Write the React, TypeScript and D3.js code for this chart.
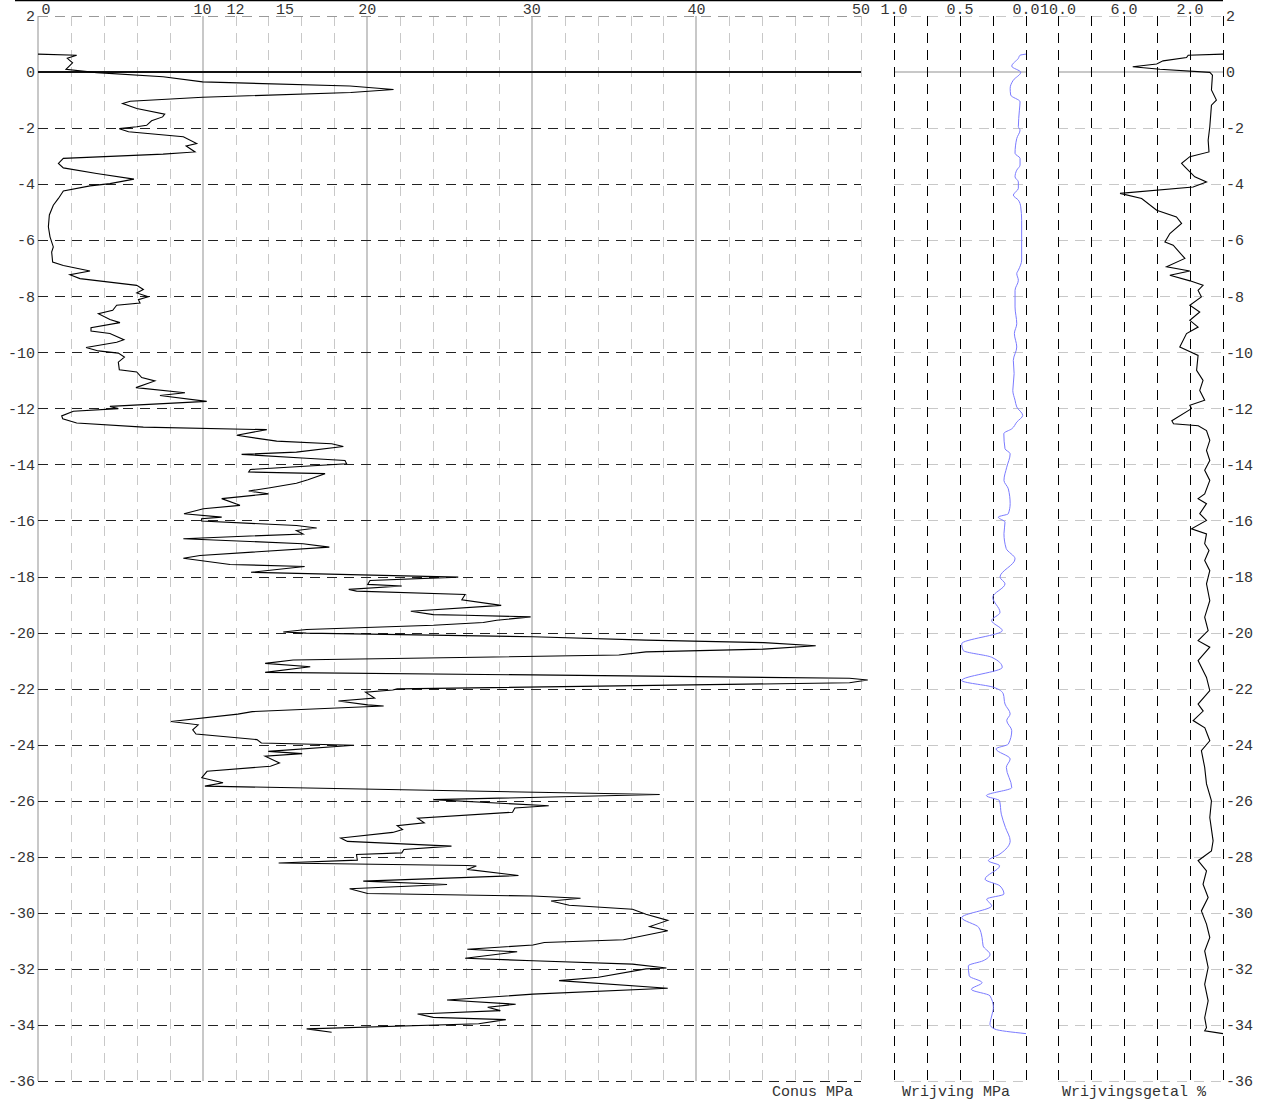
import * as d3 from 'd3';

// [depth m, value]
const conusData: [number, number][] = [
  [0.64, 0], [0.6, 2.35], [0.49, 1.78], [0.33, 2.1], [0.1, 1.7], [-0.02, 3.56], [-0.17, 7.6],
  [-0.35, 10.0], [-0.5, 18.95], [-0.62, 21.6], [-0.73, 19.0], [-0.9, 10.0], [-1.04, 5.6],
  [-1.12, 5.14], [-1.3, 6.0], [-1.5, 7.7], [-1.6, 7.57], [-1.74, 6.9], [-1.9, 6.6], [-1.95, 6.0],
  [-2.02, 4.94], [-2.13, 5.5], [-2.31, 8.83], [-2.55, 9.64], [-2.64, 9.0], [-2.85, 9.54],
  [-2.93, 7.6], [-3.08, 1.54], [-3.26, 1.24], [-3.42, 1.54], [-3.62, 3.56], [-3.82, 5.83],
  [-3.98, 4.37], [-4.06, 3.16], [-4.24, 1.54], [-4.51, 1.24], [-4.75, 0.93], [-5.1, 0.69],
  [-5.52, 0.63], [-5.88, 0.73], [-6.24, 0.93], [-6.42, 0.83], [-6.78, 0.89], [-6.9, 1.54],
  [-7.1, 3.16], [-7.23, 1.94], [-7.37, 2.55], [-7.61, 6.0], [-7.76, 6.4], [-7.88, 6.0],
  [-8.02, 6.7], [-8.12, 6.1], [-8.24, 6.2], [-8.32, 4.78], [-8.5, 4.54], [-8.62, 3.67],
  [-8.83, 4.37], [-8.94, 4.98], [-9.12, 3.22], [-9.24, 3.22], [-9.33, 4.37], [-9.55, 5.22],
  [-9.64, 4.78], [-9.83, 2.92], [-9.95, 3.67], [-10.03, 4.88], [-10.17, 5.25], [-10.35, 4.88],
  [-10.62, 4.94], [-10.7, 6.0], [-10.9, 6.3], [-11.02, 7.1], [-11.26, 5.95], [-11.44, 8.93],
  [-11.54, 7.41], [-11.75, 10.25], [-11.93, 4.37], [-12.01, 4.88], [-12.1, 2.15], [-12.27, 1.44],
  [-12.37, 1.5], [-12.52, 2.35], [-12.67, 6.4], [-12.76, 13.9], [-12.96, 12.07], [-13.17, 14.5],
  [-13.26, 17.84], [-13.36, 18.55], [-13.56, 15.7], [-13.64, 12.37], [-13.78, 16.3],
  [-13.86, 18.65], [-13.98, 18.75], [-14.18, 12.9], [-14.27, 12.8], [-14.33, 17.44],
  [-14.55, 16.4], [-14.67, 15.7], [-14.83, 14.1], [-14.95, 12.8], [-15.05, 14.0], [-15.22, 11.16],
  [-15.46, 12.27], [-15.58, 10.05], [-15.76, 8.87], [-15.88, 11.16], [-15.94, 9.94],
  [-16.02, 9.94], [-16.18, 15.7], [-16.27, 16.93], [-16.36, 15.7], [-16.48, 16.1], [-16.65, 8.83],
  [-16.83, 16.1], [-16.95, 17.7], [-17.25, 9.84], [-17.35, 8.83], [-17.57, 11.67], [-17.64, 16.2],
  [-17.85, 12.94], [-18.02, 25.53], [-18.14, 20.17], [-18.28, 20.03], [-18.34, 22.1],
  [-18.46, 18.88], [-18.52, 19.35], [-18.64, 25.95], [-18.83, 25.75], [-19.03, 28.14],
  [-19.24, 22.65], [-19.36, 24.02], [-19.38, 25.95], [-19.44, 29.93], [-19.56, 27.87],
  [-19.64, 27.05], [-19.74, 24.02], [-19.89, 16.32], [-19.98, 14.9], [-20.02, 16.3],
  [-20.15, 30.07], [-20.27, 36.94], [-20.36, 44.09], [-20.47, 47.25], [-20.59, 44.09],
  [-20.69, 36.94], [-20.8, 35.29], [-20.98, 15.5], [-21.1, 13.8], [-21.22, 16.54], [-21.42, 13.8],
  [-21.51, 30.07], [-21.63, 49.3], [-21.69, 50.41], [-21.79, 49.3], [-22.01, 21.82],
  [-22.05, 21.55], [-22.13, 19.9], [-22.34, 20.45], [-22.44, 18.25], [-22.58, 20.03],
  [-22.62, 21.0], [-22.82, 13.02], [-22.91, 12.14], [-23.17, 8.08], [-23.29, 9.73], [-23.47, 9.4],
  [-23.62, 9.6], [-23.82, 13.3], [-23.94, 13.57], [-24.02, 19.2], [-24.24, 13.99], [-24.32, 16.05],
  [-24.41, 13.8], [-24.65, 14.67], [-24.77, 14.12], [-24.95, 10.27], [-25.18, 9.95],
  [-25.36, 11.24], [-25.48, 10.14], [-25.78, 37.77], [-25.96, 24.02], [-26.18, 31.03],
  [-26.26, 28.97], [-26.41, 28.83], [-26.62, 23.06], [-26.79, 23.47], [-26.89, 21.82],
  [-27.03, 22.15], [-27.13, 21.55], [-27.33, 18.39], [-27.45, 18.8], [-27.62, 25.12],
  [-27.74, 22.23], [-27.86, 22.1], [-27.92, 19.35], [-28.12, 19.4], [-28.22, 14.62],
  [-28.31, 26.08], [-28.33, 26.63], [-28.45, 26.08], [-28.67, 29.19], [-28.87, 19.76],
  [-28.99, 24.85], [-29.14, 18.93], [-29.31, 20.03], [-29.4, 30.07], [-29.48, 32.96],
  [-29.58, 31.17], [-29.73, 32.27], [-29.87, 36.12], [-30.05, 36.94], [-30.27, 38.26],
  [-30.49, 37.16], [-30.64, 38.26], [-30.96, 35.57], [-31.06, 30.76], [-31.15, 30.07],
  [-31.3, 26.08], [-31.39, 29.11], [-31.62, 25.95], [-31.71, 30.07], [-31.83, 36.12],
  [-31.97, 38.18], [-32.0, 36.94], [-32.3, 34.05], [-32.42, 31.66], [-32.69, 38.26],
  [-32.9, 30.07], [-33.11, 24.85], [-33.26, 29.02], [-33.37, 27.32], [-33.49, 28.09],
  [-33.61, 23.06], [-33.73, 24.02], [-33.81, 28.42], [-33.96, 26.77], [-34.14, 16.32],
  [-34.26, 17.84],
];

const wrijvingData: [number, number][] = [
  [0.64, 0.0], [0.6, 0.045], [0.49, 0.058], [0.21, 0.108], [-0.01, 0.04], [-0.29, 0.096],
  [-0.58, 0.12], [-0.82, 0.116], [-1.06, 0.045], [-1.36, 0.05], [-1.95, 0.058], [-2.07, 0.045],
  [-2.37, 0.07], [-2.9, 0.083], [-3.08, 0.045], [-3.32, 0.045], [-3.5, 0.07], [-3.74, 0.083],
  [-3.92, 0.058], [-4.15, 0.058], [-4.39, 0.096], [-4.57, 0.058], [-4.81, 0.04], [-5.29, 0.033],
  [-6.71, 0.033], [-7.07, 0.058], [-7.19, 0.07], [-7.43, 0.058], [-7.79, 0.083], [-8.38, 0.083],
  [-8.98, 0.07], [-9.33, 0.088], [-9.81, 0.07], [-10.29, 0.096], [-10.76, 0.09], [-11.36, 0.1],
  [-11.71, 0.083], [-11.95, 0.07], [-12.25, 0.025], [-12.49, 0.07], [-12.73, 0.108],
  [-12.9, 0.168], [-13.44, 0.159], [-13.62, 0.12], [-14.1, 0.146], [-14.57, 0.167],
  [-14.87, 0.134], [-15.4, 0.12], [-15.76, 0.134], [-15.88, 0.21], [-16.06, 0.159],
  [-16.47, 0.167], [-17.0, 0.15], [-17.37, 0.083], [-18.02, 0.197], [-18.26, 0.159],
  [-18.74, 0.252], [-19.28, 0.197], [-19.57, 0.26], [-19.93, 0.18], [-20.4, 0.487],
  [-20.64, 0.475], [-20.88, 0.26], [-21.24, 0.18], [-21.71, 0.487], [-21.95, 0.247],
  [-22.19, 0.172], [-22.55, 0.159], [-22.9, 0.12], [-23.14, 0.146], [-23.5, 0.108],
  [-23.98, 0.134], [-24.15, 0.227], [-24.51, 0.12], [-24.81, 0.149], [-25.53, 0.108],
  [-25.82, 0.3], [-26.0, 0.2], [-26.48, 0.187], [-26.95, 0.156], [-27.43, 0.12], [-27.9, 0.197],
  [-28.14, 0.285], [-28.32, 0.2], [-28.8, 0.31], [-29.04, 0.197], [-29.33, 0.167],
  [-29.51, 0.298], [-29.75, 0.26], [-30.17, 0.487], [-30.52, 0.358], [-30.88, 0.333],
  [-31.18, 0.325], [-31.48, 0.273], [-31.71, 0.325], [-31.89, 0.437], [-32.25, 0.43],
  [-32.49, 0.333], [-32.73, 0.414], [-32.96, 0.273], [-33.38, 0.247], [-33.68, 0.26],
  [-33.98, 0.273], [-34.15, 0.235], [-34.31, 0.0],
];

const wrijvingsgetalData: [number, number][] = [
  [0.64, 0], [0.6, 2.11], [0.52, 2.21], [0.4, 3.63], [0.29, 4.02], [0.19, 5.47], [0.1, 3.82],
  [-0.01, 0.8], [-0.11, 0.64], [-0.64, 0.7], [-1.0, 0.4], [-1.18, 0.7], [-1.95, 0.8],
  [-2.43, 0.9], [-2.85, 0.85], [-3.02, 2.01], [-3.26, 2.51], [-3.38, 2.31], [-3.74, 1.71],
  [-3.92, 1.0], [-4.1, 1.81], [-4.33, 6.24], [-4.51, 4.93], [-4.93, 4.02], [-5.17, 2.82],
  [-5.4, 2.51], [-5.76, 3.22], [-6.06, 3.52], [-6.18, 3.02], [-6.65, 2.31], [-6.95, 3.42],
  [-7.1, 2.01], [-7.25, 3.22], [-7.45, 2.0], [-7.61, 1.21], [-7.79, 1.51], [-8.02, 1.31],
  [-8.32, 2.01], [-8.56, 1.41], [-8.86, 2.01], [-9.1, 1.51], [-9.33, 2.21], [-9.81, 2.62],
  [-10.11, 1.51], [-10.64, 1.6], [-11.0, 1.21], [-11.36, 1.41], [-11.71, 1.11], [-11.89, 2.01],
  [-12.01, 1.91], [-12.44, 3.1], [-12.55, 3.0], [-12.62, 1.5], [-12.79, 1.0], [-13.14, 0.8],
  [-13.5, 1.0], [-13.86, 0.8], [-14.21, 1.11], [-14.57, 0.8], [-15.05, 1.11], [-15.22, 1.51],
  [-15.4, 1.0], [-15.76, 1.41], [-16.0, 1.0], [-16.3, 1.91], [-16.48, 1.0], [-16.83, 1.11],
  [-17.07, 0.85], [-17.43, 1.11], [-17.79, 0.8], [-18.26, 1.0], [-18.86, 0.8], [-19.45, 1.11],
  [-19.93, 0.9], [-20.29, 1.51], [-20.52, 0.8], [-21.0, 1.51], [-21.6, 1.0], [-22.07, 0.8],
  [-22.55, 1.51], [-22.8, 1.2], [-23.14, 1.81], [-23.4, 1.1], [-23.86, 0.8], [-24.21, 1.31],
  [-24.81, 1.11], [-25.4, 1.0], [-26.0, 0.7], [-26.6, 0.8], [-27.43, 0.6], [-27.79, 0.7],
  [-28.14, 1.51], [-28.5, 1.0], [-28.98, 1.21], [-29.45, 0.9], [-29.93, 1.31], [-30.4, 1.0],
  [-30.88, 0.8], [-31.36, 1.11], [-31.95, 0.9], [-32.55, 1.11], [-33.14, 0.9], [-33.74, 1.11],
  [-34.1, 1.0], [-34.21, 1.11], [-34.31, 0],
];

const depthTicks = d3.range(2, -37, -2);
const conusLabels = [0, 10, 12, 15, 20, 30, 40, 50];
const conusGrid = d3.range(0, 51, 2);
const conusMajor = [0, 10, 20, 30, 40];
const wrijvingLabels = ['1.0', '0.5', '0.0'];
const wrijvingGrid = [1, 0.75, 0.5, 0.25, 0];
const getalLabels = ['10.0', '6.0', '2.0'];
const getalGrid = [10, 8, 6, 4, 2, 0];

const FONT = '"Liberation Mono", "Courier New", monospace';
const TEXT = '#333';
const LIGHT = '#c8c8c8';

// snap to pixel centre so 1px lines stay crisp
const px = (v: number) => Math.round(v) + 0.5;

export default function App() {
  const y = d3.scaleLinear().domain([2, -36]).range([16, 1081]);
  const xC = d3.scaleLinear().domain([0, 50]).range([38, 861]);
  const xW = d3.scaleLinear().domain([1, 0]).range([894, 1026]);
  const xG = d3.scaleLinear().domain([10, 0]).range([1058, 1223]);

  const [top, bottom] = y.range();

  const conusLine = d3.line<[number, number]>().x((d) => xC(d[1])).y((d) => y(d[0]));
  const wrijvingLine = d3
    .line<[number, number]>()
    .x((d) => xW(d[1]))
    .y((d) => y(d[0]))
    .curve(d3.curveMonotoneY);
  const getalLine = d3.line<[number, number]>().x((d) => xG(d[1])).y((d) => y(d[0]));

  // horizontal + vertical grid for the two small panels
  const sidePanel = (x: d3.ScaleLinear<number, number>, grid: number[], key: string) => {
    const [x0, x1] = x.range();
    return (
      <g key={key} shapeRendering="crispEdges">
        {depthTicks.map((t) =>
          t === 0 ? null : (
            <line key={'h' + t} x1={x0} x2={x1} y1={px(y(t))} y2={px(y(t))} stroke={LIGHT} strokeDasharray="10,7" />
          )
        )}
        <line x1={x0} x2={x1} y1={y(0)} y2={y(0)} stroke={LIGHT} strokeWidth={2} />
        {grid.map((g) => (
          <line key={'v' + g} x1={px(x(g))} x2={px(x(g))} y1={top} y2={bottom} stroke="#000" strokeDasharray="10,7" />
        ))}
      </g>
    );
  };

  return (
    <svg
      width={1262}
      height={1102}
      style={{ position: 'absolute', left: 0, top: 0, background: '#fff' }}
      fontFamily={FONT}
      fontSize={15}
    >
      <line x1={15} x2={1223} y1={0.5} y2={0.5} stroke="#000" strokeWidth={1.5} />

      {/* conus panel grid */}
      <g shapeRendering="crispEdges">
        {conusGrid.map((g) =>
          conusMajor.includes(g) ? null : (
            <line key={'cv' + g} x1={px(xC(g))} x2={px(xC(g))} y1={top} y2={bottom} stroke={LIGHT} strokeDasharray="10,7" />
          )
        )}
        {conusMajor.map((g) => (
          <line key={'cm' + g} x1={xC(g)} x2={xC(g)} y1={top} y2={bottom} stroke={LIGHT} strokeWidth={2} />
        ))}
        {depthTicks.map((t) =>
          t === 0 ? null : (
            <line
              key={'ch' + t}
              x1={xC(0)}
              x2={xC(50)}
              y1={px(y(t))}
              y2={px(y(t))}
              stroke={t === 2 ? '#999' : '#222'}
              strokeDasharray="10,7"
            />
          )
        )}
        <line x1={xC(0)} x2={xC(50)} y1={y(0)} y2={y(0)} stroke="#111" strokeWidth={2} />
      </g>

      {sidePanel(xW, wrijvingGrid, 'w')}
      {sidePanel(xG, getalGrid, 'g')}

      {/* curves */}
      <path d={conusLine(conusData) ?? ''} fill="none" stroke="#000" strokeWidth={1.1} />
      <path d={wrijvingLine(wrijvingData) ?? ''} fill="none" stroke="#7b7bff" strokeWidth={1} />
      <path d={getalLine(wrijvingsgetalData) ?? ''} fill="none" stroke="#000" strokeWidth={1.1} />

      {/* top labels */}
      {conusLabels.map((v) => (
        <text key={'tl' + v} x={v === 0 ? xC(v) + 8 : xC(v)} y={14} textAnchor="middle" fill={TEXT}>
          {v}
        </text>
      ))}
      {wrijvingLabels.map((v) => (
        <text key={'wl' + v} x={xW(+v)} y={14} textAnchor="middle" fill={TEXT}>
          {v}
        </text>
      ))}
      {getalLabels.map((v) => (
        <text key={'gl' + v} x={xG(+v)} y={14} textAnchor="middle" fill={TEXT}>
          {v}
        </text>
      ))}

      {/* depth labels */}
      {depthTicks.map((t) => (
        <text key={'dl' + t} x={35} y={y(t)} dy="0.35em" textAnchor="end" fill={TEXT}>
          {t}
        </text>
      ))}
      {depthTicks.map((t) => (
        <text key={'dr' + t} x={1226} y={y(t)} dy="0.35em" textAnchor="start" fill={TEXT}>
          {t}
        </text>
      ))}

      {/* bottom titles */}
      <text x={772} y={1096} fill={TEXT}>Conus MPa</text>
      <text x={902} y={1096} fill={TEXT}>Wrijving MPa</text>
      <text x={1062} y={1096} fill={TEXT}>Wrijvingsgetal %</text>
    </svg>
  );
}
